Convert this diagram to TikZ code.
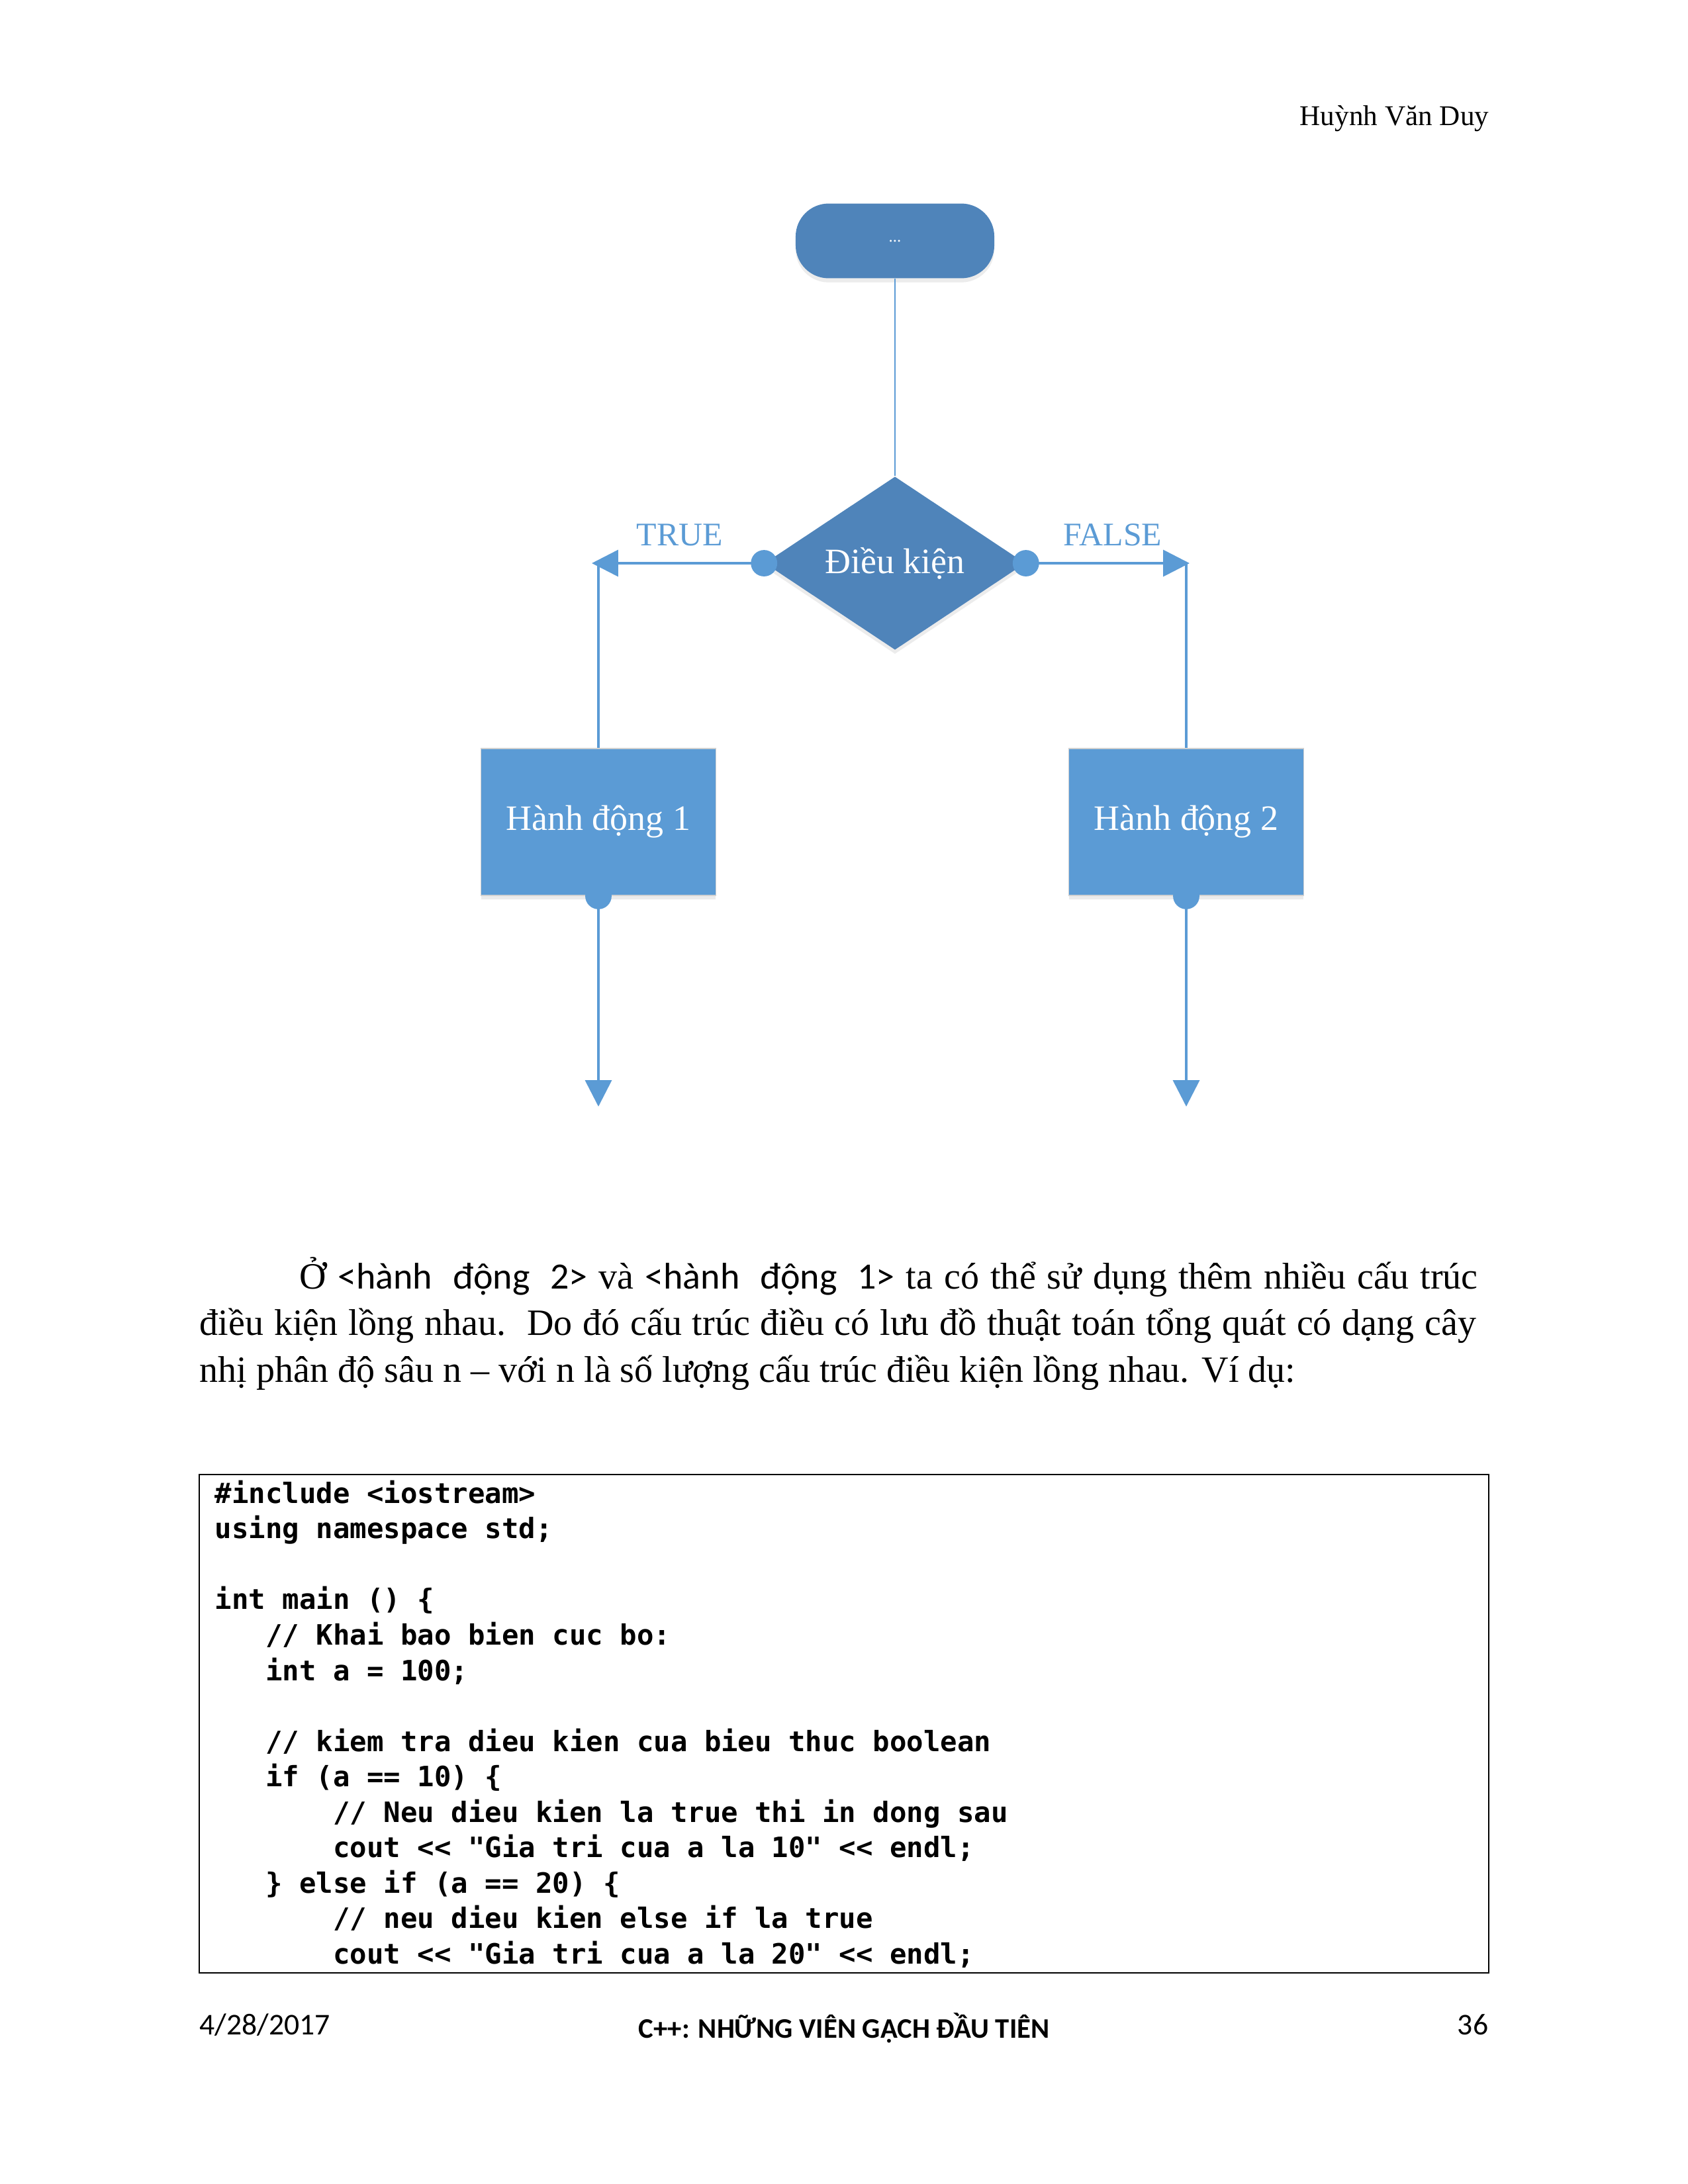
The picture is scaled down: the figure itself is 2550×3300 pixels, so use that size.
\documentclass[tikz,border=0pt]{standalone}
\usepackage{fontspec}
\setmainfont{Liberation Serif}
\setmonofont{DejaVu Sans Mono}
\newfontfamily\calibri{Carlito}
\usetikzlibrary{shapes.geometric,arrows.meta,shadows}
\definecolor{darkblue}{HTML}{4F84BA}
\definecolor{lightblue}{HTML}{5B9BD5}

\begin{document}
\begin{tikzpicture}[x=0.2409pt,y=-0.2409pt,
    flowbox/.style={fill=lightblue, draw=black!18, line width=0.4pt, minimum width=85.5pt, minimum height=53.5pt, text=white, font=\fontsize{13}{15}\selectfont, drop shadow={shadow xshift=0pt, shadow yshift=-1.5pt, opacity=0.15}},
    link/.style={draw=lightblue, line width=0.9pt},
    tip/.style={-{Triangle[length=9.6pt,width=9.6pt]}},
    dot/.style={circle, fill=lightblue, inner sep=0pt, minimum size=9.6pt},
    branch/.style={text=lightblue, font=\fontsize{12}{14}\selectfont, inner sep=0pt}]
    \path[use as bounding box, fill=white] (0,0) rectangle (2550,3300);
    \node[anchor=base east, inner sep=0pt, font=\fontsize{10.4}{12}\selectfont] (author) at (2250,189) {Huỳnh Văn Duy};

    \node[rectangle, rounded corners=12pt, fill=darkblue, minimum width=72.3pt, minimum height=27.2pt, text=white, font=\fontsize{6}{7}\selectfont, drop shadow={shadow xshift=0pt, shadow yshift=-1.5pt, opacity=0.15}] (start) at (1352,364) {...};
    \node[diamond, fill=darkblue, inner sep=0pt, minimum width=94.9pt, minimum height=63.1pt, text=white, font=\fontsize{13}{15}\selectfont, drop shadow={shadow xshift=0pt, shadow yshift=-1.5pt, opacity=0.15}] (cond) at (1352,851) {Điều kiện};
    \node[flowbox] (act1) at (904,1242) {Hành động 1};
    \node[flowbox] (act2) at (1792,1242) {Hành động 2};
    \node[branch, anchor=base] (true) at (1027,824) {TRUE};
    \node[branch, anchor=base] (false) at (1681,824) {FALSE};

    \node[dot] (dl) at (cond.west) {};
    \node[dot] (dr) at (cond.east) {};
    \node[dot] (d1) at (act1.south) {};
    \node[dot] (d2) at (act2.south) {};
    \coordinate (tl) at (894,851);
    \coordinate (tr) at (1797,851);
    \coordinate (e1) at (904,1672);
    \coordinate (e2) at (1792,1672);

    \draw[link, line width=0.6pt] (start.south) -- (cond.north);
    \draw[link, tip] (dl.center) -- (tl);
    \draw[link] (tl -| act1.north) -- (act1.north);
    \draw[link, tip] (dr.center) -- (tr);
    \draw[link] (tr -| act2.north) -- (act2.north);
    \draw[link, tip] (d1.center) -- (e1);
    \draw[link, tip] (d2.center) -- (e2);

    \node[anchor=base west, inner sep=0pt, font=\fontsize{13.5}{15}\selectfont] (line1) at (452,1947) {\makebox[428.8pt][s]{Ở {\calibri <hành\ \ động\ \ 2>} và {\calibri <hành\ \ động\ \ 1>} ta có thể sử dụng thêm nhiều cấu trúc}};
    \node[anchor=base west, inner sep=0pt, font=\fontsize{13.5}{15}\selectfont] (line2) at (301,2017) {\makebox[464.5pt][s]{điều kiện lồng nhau.\ \ Do đó cấu trúc điều có lưu đồ thuật toán tổng quát có dạng cây}};
    \node[anchor=base west, inner sep=0pt, font=\fontsize{13.5}{15}\selectfont] (line3) at (301,2088) {nhị phân độ sâu n – với n là số lượng cấu trúc điều kiện lồng nhau. Ví dụ:};

    \draw[line width=0.5pt] (301,2228) rectangle (2249,2981);
    \node[anchor=north west, inner sep=0pt, align=left, font=\ttfamily\bfseries\fontsize{10.2}{12.9}\selectfont] (code) at (324,2236) {\#include <iostream>\\
using namespace std;\\
\mbox{}\\
int main () \{\\
\phantom{000}// Khai bao bien cuc bo:\\
\phantom{000}int a = 100;\\
\mbox{}\\
\phantom{000}// kiem tra dieu kien cua bieu thuc boolean\\
\phantom{000}if (a == 10) \{\\
\phantom{0000000}// Neu dieu kien la true thi in dong sau\\
\phantom{0000000}cout << "Gia tri cua a la 10" << endl;\\
\phantom{000}\} else if (a == 20) \{\\
\phantom{0000000}// neu dieu kien else if la true\\
\phantom{0000000}cout << "Gia tri cua a la 20" << endl;};

    \node[anchor=base west, inner sep=0pt, font=\calibri\fontsize{11}{13}\selectfont] (date) at (301,3074) {4/28/2017};
    \node[anchor=base, inner sep=0pt, font=\calibri\bfseries\fontsize{10.3}{12}\selectfont] (title) at (1275,3079) {C++: NHỮNG VIÊN GẠCH ĐẦU TIÊN};
    \node[anchor=base east, inner sep=0pt, font=\calibri\fontsize{11}{13}\selectfont] (page) at (2249,3074) {36};
\end{tikzpicture}
\end{document}
